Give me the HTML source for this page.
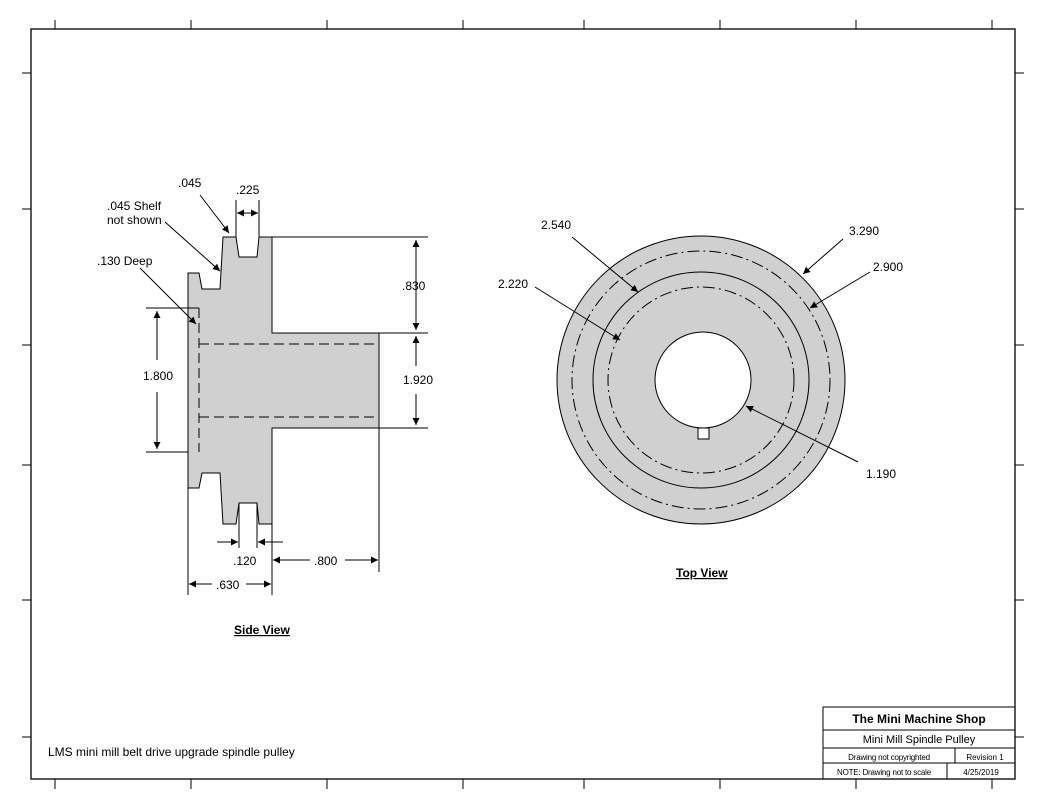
<!DOCTYPE html>
<html><head><meta charset="utf-8"><style>
body{margin:0;background:#fff}
svg{display:block}
text{font-family:"Liberation Sans",Arial,sans-serif;font-size:12px;fill:#000}
</style></head><body>
<svg width="1044" height="808" viewBox="0 0 1044 808" xmlns="http://www.w3.org/2000/svg">
<defs>
<marker id="a" viewBox="0 0 10 10" refX="10" refY="5" markerWidth="10" markerHeight="7" markerUnits="userSpaceOnUse" orient="auto-start-reverse"><path d="M0,0 L10,5 L0,10z" fill="#000"/></marker>
</defs>
<rect x="0" y="0" width="1044" height="808" fill="#fff"/>
<rect x="31" y="29" width="984" height="750" fill="none" stroke="#000" stroke-width="1.3"/>
<g stroke="#000" stroke-width="1">
<path d="M55 20V29M191 20V29M327 20V29M463 20V29M584 20V29M720 20V29M856 20V29M992 20V29"/>
<path d="M55 779V789M191 779V789M327 779V789M463 779V789M584 779V789M720 779V789M856 779V789M992 779V789"/>
<path d="M22 73H31M22 209H31M22 345H31M22 465H31M22 600H31M22 737H31"/>
<path d="M1015 73H1024M1015 209H1024M1015 345H1024M1015 465H1024M1015 600H1024M1015 737H1024"/>
</g>
<!-- side view -->
<path d="M188 273H199L202 289H220L223 237H236L239 257H257L259 237H272V333H379V428H272V524H259L257 503H239L236 524H223L220 473H202L199 488H188Z" fill="#d0d0d0" stroke="#000" stroke-width="1"/>
<g stroke="#000" stroke-width="1" fill="none" stroke-dasharray="10,5">
<path d="M199 308V452"/><path d="M199 344H379"/><path d="M199 417H379"/>
</g>
<g stroke="#000" stroke-width="1" fill="none">
<path d="M272 237H428M379 333H428M272 428H428"/>
<path d="M146 308H199M146 452H188"/>
<path d="M188 488V595M272 524V595M379 428V572M236 200V237M259 200V237M239 503V548M257 503V548"/>
<path d="M416 240V330" marker-start="url(#a)" marker-end="url(#a)"/>
<path d="M416 336V366" marker-start="url(#a)"/><path d="M416 394V425" marker-end="url(#a)"/>
<path d="M157 311V360" marker-start="url(#a)"/><path d="M157 392V449" marker-end="url(#a)"/>
<path d="M237 213H258" marker-start="url(#a)" marker-end="url(#a)"/>
<path d="M217 542H238" marker-end="url(#a)"/><path d="M283 542H258" marker-end="url(#a)"/>
<path d="M310 560H273" marker-end="url(#a)"/><path d="M345 560H378" marker-end="url(#a)"/>
<path d="M212 584H189" marker-end="url(#a)"/><path d="M246 584H271" marker-end="url(#a)"/>
<path d="M200 195L229 233" marker-end="url(#a)"/>
<path d="M165 222L220 271" marker-end="url(#a)"/>
<path d="M140 268L196 324" marker-end="url(#a)"/>
</g>
<text x="178" y="187">.045</text><text x="236" y="194">.225</text>
<text x="107" y="210">.045 Shelf</text><text x="107" y="224">not shown</text>
<text x="97" y="265">.130 Deep</text>
<text x="402" y="290">.830</text><text x="403" y="384">1.920</text>
<text x="143" y="380">1.800</text>
<text x="233" y="565">.120</text><text x="314" y="565">.800</text><text x="216" y="589">.630</text>
<text x="234" y="634" font-weight="bold" text-decoration="underline">Side View</text>
<!-- top view -->
<circle cx="701" cy="380" r="144" fill="#d0d0d0" stroke="#000"/>
<circle cx="701" cy="380" r="108" fill="none" stroke="#000"/>
<circle cx="701" cy="380" r="129" fill="none" stroke="#000" stroke-dasharray="12,4,2,4"/>
<circle cx="701" cy="380" r="93" fill="none" stroke="#000" stroke-dasharray="12,4,2,4"/>
<circle cx="703" cy="380" r="48" fill="#fff" stroke="#000"/>
<rect x="698" y="428" width="11" height="11" fill="#fff" stroke="#000"/>
<g stroke="#000" fill="none">
<path d="M843 239L803 274" marker-end="url(#a)"/>
<path d="M870 272L810 308" marker-end="url(#a)"/>
<path d="M572 237L638 292" marker-end="url(#a)"/>
<path d="M535 287L620 340" marker-end="url(#a)"/>
<path d="M858 462L746 406" marker-end="url(#a)"/>
</g>
<text x="849" y="235">3.290</text><text x="873" y="271">2.900</text>
<text x="541" y="229">2.540</text><text x="498" y="288">2.220</text>
<text x="866" y="478">1.190</text>
<text x="676" y="577" font-weight="bold" text-decoration="underline">Top View</text>
<text x="48" y="756">LMS mini mill belt drive upgrade spindle pulley</text>
<!-- title block -->
<g stroke="#000" fill="none">
<rect x="823" y="707" width="192" height="72"/>
<path d="M823 730H1015M823 748H1015M823 763H1015M955 748V763M947 763V779"/>
</g>
<text x="919" y="723" text-anchor="middle" style="font-weight:bold;font-size:12px">The Mini Machine Shop</text>
<text x="919" y="743" text-anchor="middle" style="font-size:11px">Mini Mill Spindle Pulley</text>
<text x="889" y="760" text-anchor="middle" style="font-size:8px;letter-spacing:-0.2px">Drawing not copyrighted</text>
<text x="985" y="760" text-anchor="middle" style="font-size:8px">Revision 1</text>
<text x="884" y="775" text-anchor="middle" style="font-size:8px;letter-spacing:-0.2px">NOTE: Drawing not to scale</text>
<text x="981" y="775" text-anchor="middle" style="font-size:8px">4/25/2019</text>
</svg>
</body></html>
